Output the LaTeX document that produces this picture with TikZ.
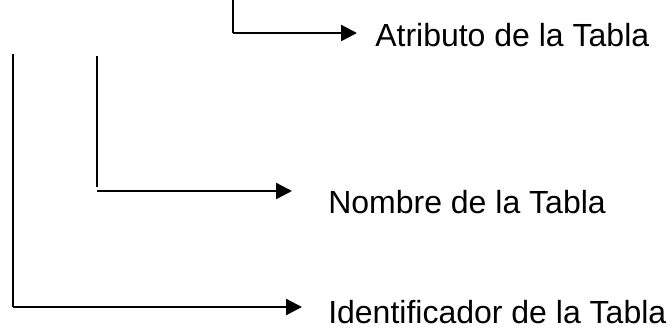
\documentclass[tikz,border=0pt]{standalone}
\usepackage{fontspec}
\setmainfont{Liberation Sans}
\usetikzlibrary{arrows.meta}

\begin{document}
\begin{tikzpicture}[x=0.75pt, y=-0.75pt,
    label/.style = {anchor=base west, inner sep=0pt, font=\fontsize{24}{28}\selectfont},
    stem/.style = {line width=0.8pt},
    pointer/.style = {line width=1.8pt, -{Triangle[length=12pt,width=12pt]}}]
    \useasboundingbox (0,0) rectangle (672,330);
    \node[label] (atr) at (375,46) {Atributo de la Tabla};
    \node[label] (nom) at (328,213) {Nombre de la Tabla};
    \node[label] (ide) at (328,323) {Identificador de la Tabla};
    \coordinate (atrtop) at (233,0);
    \coordinate (atrbend) at (233,33);
    \coordinate (nomtop) at (97,56);
    \coordinate (nomend) at (97,187);
    \coordinate (nombend) at (97,191);
    \coordinate (idetop) at (13,54);
    \coordinate (idebend) at (13,307);
    \draw[stem] (atrtop) -- (atrbend);
    \draw[stem] (nomtop) -- (nomend);
    \draw[stem] (idetop) -- (idebend);
    \draw[pointer, shorten >=13.5pt] (atrbend) -- (atrbend -| atr.west);
    \draw[pointer, shorten >=27pt] (nombend) -- (nombend -| nom.west);
    \draw[pointer, shorten >=19.5pt] (idebend) -- (idebend -| ide.west);
\end{tikzpicture}
\end{document}
